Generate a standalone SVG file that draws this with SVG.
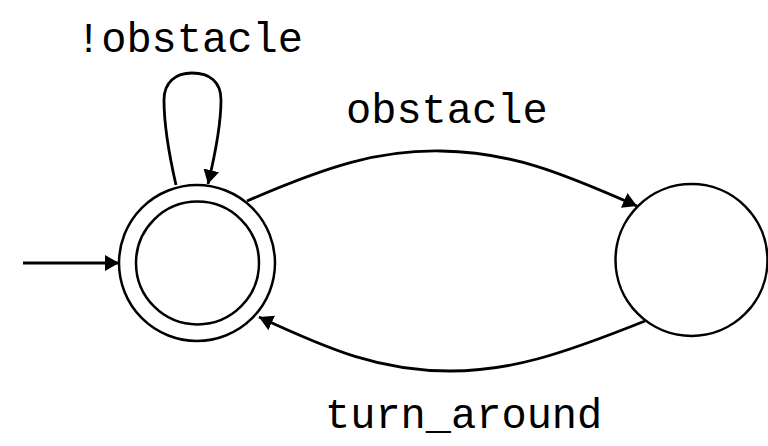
<svg xmlns="http://www.w3.org/2000/svg" width="768" height="446" viewBox="0 0 768 446">
<defs>
<style>
.node{fill:#fff;stroke:#000;stroke-width:2.5}
.edge{fill:none;stroke:#000;stroke-width:2.8}
.lbl{font-family:"Liberation Mono","Courier New",monospace;font-size:42px;fill:#000}
</style>
<marker id="ah" markerUnits="userSpaceOnUse" markerWidth="16" markerHeight="16" refX="14" refY="8" orient="auto">
<path d="M0,0 L14,8 L0,16 Z" fill="#000"/>
</marker>
</defs>
<rect width="768" height="446" fill="#fff"/>
<g id="q0">
<circle class="node" cx="197" cy="263" r="78"/>
<circle class="node" cx="197.5" cy="263" r="61.5"/>
</g>
<g id="q1">
<circle class="node" cx="691.5" cy="260" r="76"/>
</g>
<g id="edges">
<path class="edge" d="M23 263 L119 263" marker-end="url(#ah)"/>
<path class="edge" d="M176 185 C168 150,164 125,164 100 C164 82,176 73,192 73 C210 73,221 82,221 100 C221 125,215 155,208 184" marker-end="url(#ah)"/>
<path class="edge" d="M247 201 C330 165,380 150,441 151 C510 152,560 172,637 206" marker-end="url(#ah)"/>
<path class="edge" d="M645 321 C560 355,510 371,450 371 C380 371,330 350,259 317" marker-end="url(#ah)"/>
</g>
<g id="labels">
<text class="lbl" x="76" y="52">!obstacle</text>
<text class="lbl" x="346" y="123">obstacle</text>
<text class="lbl" x="325" y="428">turn_around</text>
</g>
</svg>
